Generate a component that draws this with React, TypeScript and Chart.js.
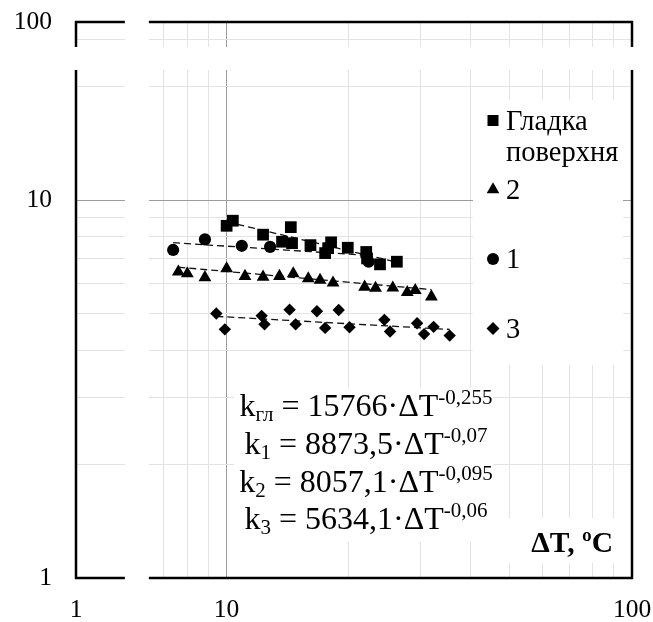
import React, { useEffect, useRef } from 'react';
import { Chart, registerables, LogarithmicScale } from 'chart.js';

// ---------- data ----------
const xTickValues = [1, 10, 100];
const xTickLabels = ['1', '10', '100'];
const yTickValues = [1, 10, 100];
const yTickLabels = ['1', '10', '100'];
const gridSignificands = [1, 2, 3, 4, 5, 6, 7, 8, 9];
const gridDecades = [1, 10];

// broken-axis ranges (value hidden behind the white break strip)
const xBreak = [1.32, 6.43];
const yBreak = [22.1, 85.9];

const seriesLabels = ['Гладка поверхня', '1', '2', '3'];

// Гладка поверхня (squares)
const smoothX = [10.0, 10.36, 12.3, 14.4, 13.7, 14.5, 16.1, 17.5, 18.1, 17.8, 19.9, 22.1, 22.2, 23.9, 26.3];
const smoothY = [8.55, 8.82, 8.1, 8.48, 7.76, 7.69, 7.6, 7.24, 7.73, 7.46, 7.48, 7.29, 7.01, 6.76, 6.87];

// 1 (circles)
const s1X = [7.38, 8.84, 10.9, 12.8, 22.4];
const s1Y = [7.38, 7.87, 7.57, 7.52, 6.87];

// 2 (triangles)
const s2X = [7.6, 8.0, 8.84, 10.0, 11.1, 12.3, 13.5, 14.6, 15.9, 17.0, 18.3, 21.9, 23.3, 25.7, 27.9, 29.2, 32.0];
const s2Y = [6.46, 6.39, 6.24, 6.59, 6.29, 6.26, 6.29, 6.39, 6.2, 6.14, 6.04, 5.89, 5.85, 5.86, 5.7, 5.77, 5.55];

// 3 (diamonds)
const s3X = [9.43, 9.9, 12.2, 12.4, 14.3, 14.8, 16.7, 17.5, 18.9, 20.1, 24.5, 25.3, 29.5, 30.7, 32.4, 35.5];
const s3Y = [5.01, 4.55, 4.94, 4.69, 5.13, 4.69, 5.08, 4.59, 5.12, 4.61, 4.82, 4.49, 4.72, 4.42, 4.62, 4.38];

// power trend lines k = A * ΔT^B (k plotted in thousands)
const trendA = [15766, 8873.5, 8057.1, 5634.1];
const trendB = [-0.255, -0.07, -0.095, -0.06];
const trendSubs = ['гл', '1', '2', '3'];
const kUnitDivisor = 1000;

const axisTitle = 'ΔT, ºC';

// ---------- broken log scale ----------
class BrokenLogScale extends LogarithmicScale {
  static id = 'brokenLog';
  _brk() {
    const o: any = (this.options as any).brk;
    const min = this.min, max = this.max;
    const T = Math.log10(max / min);
    const La = Math.log10(o.from / min);
    const Lb = Math.log10(o.to / min);
    const G = o.gap;
    const k = (1 - G) / (T - (Lb - La));
    return { min, La, Lb, G, k };
  }
  _dec(value: number) {
    const { min, La, Lb, G, k } = this._brk();
    const L = Math.log10(value / min);
    if (L <= La) return L * k;
    if (L >= Lb) return La * k + G + (L - Lb) * k;
    return La * k + (G * (L - La)) / (Lb - La);
  }
  getPixelForValue(value: any) {
    if (value === undefined || value === 0) value = this.min;
    if (value === null || isNaN(value)) return NaN;
    return this.getPixelForDecimal(this._dec(value));
  }
  getValueForPixel(pixel: number) {
    const { min, La, Lb, G, k } = this._brk();
    const d = this.getDecimalForPixel(pixel);
    const da = La * k, db = La * k + G;
    let L;
    if (d <= da) L = d / k;
    else if (d >= db) L = Lb + (d - db) / k;
    else L = La + ((d - da) / G) * (Lb - La);
    return min * Math.pow(10, L);
  }
}

Chart.register(...registerables);
Chart.register(BrokenLogScale as any);

const SERIF = '"Liberation Serif", "Times New Roman", serif';

function pts(xs: number[], ys: number[]) {
  return xs.map((x, i) => ({ x, y: ys[i] }));
}
function trend(i: number, xs: number[]) {
  const lo = Math.min(...xs), hi = Math.max(...xs);
  return [lo, hi].map((x) => ({ x, y: (trendA[i] * Math.pow(x, trendB[i])) / kUnitDivisor }));
}
function fmt(n: number) {
  return String(n).replace('.', ',');
}

function drawMarker(ctx: CanvasRenderingContext2D, style: string, x: number, y: number) {
  ctx.beginPath();
  if (style === 'rect') {
    ctx.rect(x - 5.5, y - 5.5, 11, 11);
  } else if (style === 'circle') {
    ctx.arc(x, y, 6, 0, Math.PI * 2);
  } else if (style === 'triangle') {
    const r = 7.3;
    ctx.moveTo(x, y - r);
    ctx.lineTo(x + r * Math.sin((2 * Math.PI) / 3), y + r / 2);
    ctx.lineTo(x - r * Math.sin((2 * Math.PI) / 3), y + r / 2);
    ctx.closePath();
  } else {
    const r = 6.5;
    ctx.moveTo(x - r, y);
    ctx.lineTo(x, y - r);
    ctx.lineTo(x + r, y);
    ctx.lineTo(x, y + r);
    ctx.closePath();
  }
  ctx.fill();
}

const markerStyles = ['rect', 'circle', 'triangle', 'rectRot'];
const legendOrder = [0, 2, 1, 3];

const overlayPlugin = {
  id: 'overlay',
  beforeDatasetsDraw(chart: any) {
    const { ctx, chartArea: a, scales } = chart;
    const xs = scales.x, ys = scales.y;
    ctx.save();
    // frame
    ctx.strokeStyle = '#000';
    ctx.lineWidth = 2.5;
    ctx.strokeRect(a.left, a.top, a.right - a.left, a.bottom - a.top);
    // break strips
    ctx.fillStyle = '#fff';
    const bx1 = xs.getPixelForValue(xBreak[0]);
    const bx2 = xs.getPixelForValue(xBreak[1]);
    ctx.fillRect(bx1, a.top - 4, bx2 - bx1, a.bottom - a.top + 8);
    const by1 = ys.getPixelForValue(yBreak[1]);
    const by2 = ys.getPixelForValue(yBreak[0]);
    ctx.fillRect(a.left - 4, by1, a.right - a.left + 8, by2 - by1);
    // text boxes (white background behind legend, equations, axis title)
    const L = a.left, T = a.top;
    ctx.fillRect(L + 397, T + 78, 150, 265); // legend
    ctx.fillRect(L + 158, T + 366, 259, 154); // equations
    ctx.fillRect(L + 421, T + 496, 128, 45); // axis title
    ctx.restore();
  },
  afterDraw(chart: any) {
    const { ctx, chartArea: a } = chart;
    const L = a.left;
    ctx.save();
    ctx.fillStyle = '#000';
    // legend
    const baselines = [129.5, 198.5, 268, 337.5];
    ctx.font = '28.5px ' + SERIF;
    ctx.textAlign = 'left';
    ctx.textBaseline = 'alphabetic';
    legendOrder.forEach((si, k) => {
      const b = baselines[k];
      drawMarker(ctx, markerStyles[si], L + 417, b - 9);
      const words = seriesLabels[si].split(' ');
      words.forEach((w, j) => ctx.fillText(w, L + 430, b + j * 31));
    });
    // equations
    const eqBase = [416, 454, 491.5, 529];
    const big = '32px ' + SERIF, small = '21px ' + SERIF;
    trendA.forEach((A, i) => {
      const parts = [
        { t: 'k', f: big, dy: 0 },
        { t: trendSubs[i], f: small, dy: 5 },
        { t: ' = ' + fmt(A) + '·ΔT', f: big, dy: 0 },
        { t: fmt(trendB[i]), f: small, dy: -12 },
      ];
      let w = 0;
      const ws = parts.map((p) => {
        ctx.font = p.f;
        const m = ctx.measureText(p.t).width;
        w += m;
        return m;
      });
      let x = L + 290 - w / 2;
      parts.forEach((p, j) => {
        ctx.font = p.f;
        ctx.fillText(p.t, x, eqBase[i] + p.dy);
        x += ws[j];
      });
    });
    // axis title
    ctx.font = 'bold 29.5px ' + SERIF;
    ctx.textAlign = 'right';
    ctx.fillText(axisTitle, L + 537, 551.5);
    ctx.restore();
  },
};

function gridTicks() {
  const out: any[] = [];
  gridDecades.forEach((d) => gridSignificands.forEach((s) => out.push({ value: s * d, major: s === 1 })));
  out.push({ value: 100, major: true });
  return out;
}

function axisOptions(isX: boolean) {
  const vals = isX ? xTickValues : yTickValues;
  const labels = isX ? xTickLabels : yTickLabels;
  const brk = isX ? xBreak : yBreak;
  return {
    type: 'brokenLog',
    min: 1,
    max: 100,
    brk: { from: brk[0], to: brk[1], gap: isX ? 24 / 556 : 23 / 556 },
    afterBuildTicks: (s: any) => {
      s.ticks = gridTicks();
    },
    afterFit: (s: any) => {
      if (isX) s.height = 44;
      else s.width = 76;
      s.paddingLeft = 0;
      s.paddingRight = 0;
      s.paddingTop = 0;
      s.paddingBottom = 0;
    },
    border: { display: false },
    grid: {
      drawTicks: false,
      lineWidth: 1,
      color: (c: any) => (c.tick && c.tick.value === 10 ? '#9c9c9c' : '#e3e3e3'),
    },
    ticks: {
      autoSkip: false,
      maxRotation: 0,
      minRotation: 0,
      padding: isX ? 17 : 24,
      color: '#000',
      font: { family: SERIF, size: 25.5 },
      callback: (v: any) => {
        const i = vals.indexOf(Number(v));
        return i >= 0 ? labels[i] : '';
      },
    },
  };
}

export default function App() {
  const ref = useRef<HTMLCanvasElement>(null);
  useEffect(() => {
    if (!ref.current) return;
    const markerSets = [
      { xs: smoothX, ys: smoothY, style: 'rect', r: 8.3 },
      { xs: s1X, ys: s1Y, style: 'circle', r: 6.1 },
      { xs: s2X, ys: s2Y, style: 'triangle', r: 7.4 },
      { xs: s3X, ys: s3Y, style: 'rectRot', r: 6.2 },
    ];
    const datasets: any[] = [];
    markerSets.forEach((m, i) => {
      datasets.push({
        label: seriesLabels[i],
        data: pts(m.xs, m.ys),
        showLine: false,
        pointStyle: m.style,
        pointRadius: m.r,
        pointBorderWidth: 0,
        pointBackgroundColor: '#000',
        backgroundColor: '#000',
        borderColor: '#000',
      });
    });
    markerSets.forEach((m, i) => {
      datasets.push({
        label: 'trend ' + trendSubs[i],
        data: trend(i, m.xs),
        showLine: true,
        pointRadius: 0,
        borderColor: '#111',
        borderWidth: 1.3,
        borderDash: [7, 4],
        fill: false,
      });
    });
    const chart = new Chart(ref.current, {
      type: 'scatter',
      data: { datasets },
      options: {
        responsive: false,
        animation: false,
        devicePixelRatio: 1,
        layout: { padding: { left: 0, top: 22, right: 21, bottom: 0 } },
        plugins: { legend: { display: false }, tooltip: { enabled: false } },
        scales: { x: axisOptions(true) as any, y: axisOptions(false) as any },
      },
      plugins: [overlayPlugin],
    } as any);
    return () => chart.destroy();
  }, []);
  return (
    <div style={{ position: 'absolute', left: 0, top: 0, width: 653, height: 622, background: '#fff' }}>
      <canvas ref={ref} width={653} height={622} style={{ width: 653, height: 622, display: 'block' }} />
    </div>
  );
}
